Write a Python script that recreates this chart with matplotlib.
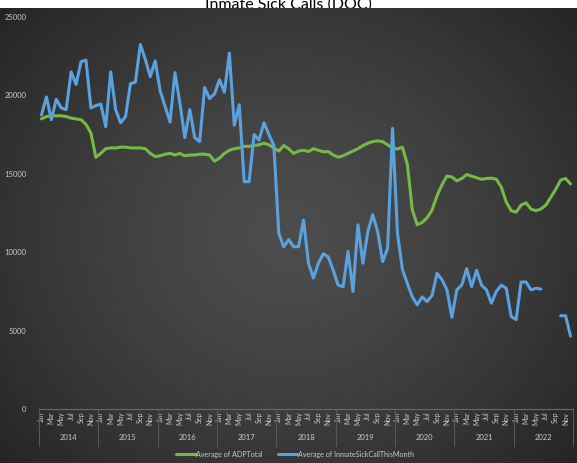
import numpy as np
import matplotlib
matplotlib.use("Agg")
import matplotlib.pyplot as plt
import matplotlib.transforms as mtransforms

plt.rcParams['font.family'] = ['Lato', 'DejaVu Sans']

# data
years = [2014, 2015, 2016, 2017, 2018, 2019, 2020, 2021, 2022]
months = ['Jan', 'Feb', 'Mar', 'Apr', 'May', 'Jun',
          'Jul', 'Aug', 'Sep', 'Oct', 'Nov', 'Dec']

adp_total = [
    18500, 18650, 18700, 18700, 18700, 18650, 18550, 18500, 18450, 18150, 17600, 16050,
    16300, 16600, 16650, 16650, 16700, 16700, 16650, 16650, 16650, 16600, 16300, 16100,
    16150, 16250, 16300, 16200, 16300, 16150, 16200, 16200, 16250, 16250, 16200, 15800,
    16000, 16300, 16500, 16600, 16650, 16750, 16750, 16800, 16850, 16950, 16850, 16650,
    16450, 16800, 16600, 16300, 16450, 16500, 16420, 16600, 16500, 16400, 16420, 16200,
    16060, 16150, 16300, 16450, 16600, 16800, 16950, 17050, 17100, 17050, 16850, 16650,
    16580, 16700, 15600, 12700, 11750, 11900, 12200, 12700, 13600, 14300, 14850, 14800,
    14550, 14700, 14950, 14850, 14750, 14650, 14700, 14720, 14650, 14150, 13200, 12650,
    12550, 13000, 13150, 12750, 12650, 12750, 13000, 13500, 14000, 14600, 14700, 14350,
]

sick_calls = [
    18750, 19900, 18450, 19750, 19200, 19100, 21500, 20700, 22150, 22250, 19200, 19350,
    19450, 18000, 21500, 19100, 18250, 18650, 20750, 20850, 23250, 22300, 21200, 22200,
    20300, 19300, 18300, 21450, 19500, 17300, 19100, 17300, 17050, 20500, 19800, 20100,
    21000, 20200, 22700, 18100, 19400, 14500, 14500, 17500, 17150, 18250, 17500, 16800,
    11200, 10350, 10800, 10350, 10350, 12050, 9300, 8350, 9300, 9900, 9700, 8850,
    7900, 7800, 10050, 7500, 11750, 9300, 11300, 12400, 11300, 9400, 10250, 17900,
    11200, 8900, 8000, 7150, 6650, 7150, 6850, 7250, 8650, 8250, 7600, 5850,
    7600, 7900, 8950, 7800, 8850, 7900, 7600, 6750, 7500, 7900, 7700, 5900,
    5700, 8100, 8100, 7600, 7700, 7650, None, None, None, 5950, 5950, 4650,
]

W, H = 577, 463
fig = plt.figure(figsize=(W / 100, H / 100), dpi=100)
fig.patch.set_facecolor('white')

# title, partly hidden behind the dark chart area like in the source
fig.text(0.5, 1 - 8.5 / H, 'Inmate Sick Calls (DOC)', ha='center', va='baseline',
         fontsize=11.5, color='black', zorder=-5)

# dark radial background
bg = fig.add_axes([0, 0, 1, 1 - 8 / H], zorder=-2)
yy, xx = np.mgrid[0:1:300j, 0:1:400j]
r = np.sqrt(((xx - 0.5) / 0.62) ** 2 + ((yy - 0.5) / 0.7) ** 2)
shade = np.clip(0.30 - 0.14 * r ** 1.4, 0.13, 0.30)
bg.imshow(np.dstack([shade] * 3), aspect='auto', extent=[0, 1, 0, 1], interpolation='bilinear')
bg.set_axis_off()

left, right = 39 / W, 573 / W
bottom, top = (H - 409) / H, (H - 17) / H
ax = fig.add_axes([left, bottom, right - left, top - bottom])
ax.set_facecolor('none')

n = len(adp_total)
x = np.arange(n)
adp = np.array(adp_total, dtype=float)
sick = np.array([np.nan if v is None else v for v in sick_calls], dtype=float)

ax.plot(x, adp, color='#76B947', lw=2.2, solid_capstyle='round', label='Average of ADPTotal')
ax.plot(x, sick, color='#5AA2DF', lw=2.2, solid_capstyle='round',
        label='Average of InmateSickCallThisMonth')

ax.set_xlim(-0.5, n - 0.5)
ax.set_ylim(0, 25000)
ax.set_yticks(range(0, 25001, 5000))
ax.tick_params(axis='y', length=0, labelsize=5.5, labelcolor='#c8c8c8', pad=9)

tick_pos = [i for i in range(n) if i % 2 == 0]
ax.set_xticks(tick_pos)
ax.set_xticklabels([months[i % 12] for i in tick_pos], rotation=90)
ax.tick_params(axis='x', length=0, labelsize=5, labelcolor='#c8c8c8', pad=2)

for s in ['top', 'right', 'left']:
    ax.spines[s].set_visible(False)
ax.spines['bottom'].set_color('#6a6a6a')
ax.spines['bottom'].set_linewidth(0.8)

# year group labels and separators
trans = mtransforms.blended_transform_factory(ax.transData, ax.transAxes)
sep_bottom = -37 / (409 - 17)
for k, yr in enumerate(years):
    ax.text(k * 12 + 5.5, -28 / (409 - 17), str(yr), transform=trans, ha='center', va='center',
            fontsize=5.5, color='#c8c8c8')
for k in range(len(years) + 1):
    ax.plot([k * 12 - 0.5] * 2, [0, sep_bottom], transform=trans, color='#5a5a5a',
            lw=0.7, clip_on=False)

leg = ax.legend(loc='center', bbox_to_anchor=(295 / W, 9 / H), bbox_transform=fig.transFigure,
                ncol=2, frameon=False, fontsize=5.1, labelcolor='#c8c8c8',
                handlelength=2.8, handletextpad=0.1, columnspacing=2.1)

fig.savefig('out.png', dpi=100)
